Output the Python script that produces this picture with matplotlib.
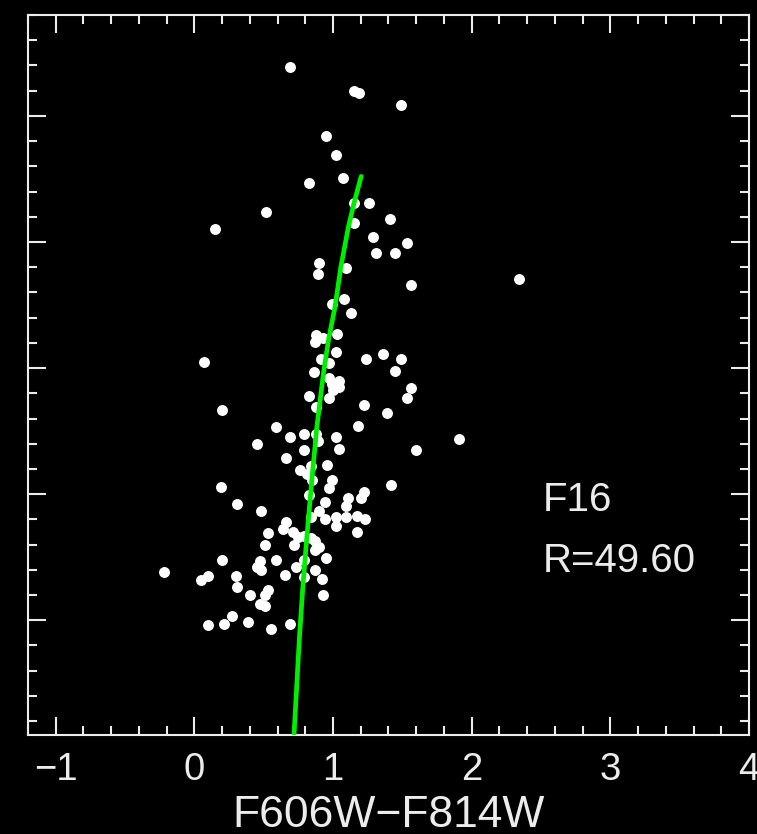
import matplotlib
matplotlib.use('Agg')
import matplotlib.pyplot as plt
from matplotlib.ticker import MultipleLocator, NullFormatter

plt.rcParams['font.family'] = ['Liberation Sans', 'DejaVu Sans']

# colour (F606W-F814W) and magnitude of the stars
color = [0.69, 1.15, 1.19, 1.49, 0.95, 1.02, 1.07, 0.83, 0.52, 0.15,
         1.15, 1.26, 1.41, 1.15, 1.29, 1.53, 1.31, 1.45, 0.90, 0.89,
         1.09, 1.56, 2.34, 1.08, 0.99, 1.13,
         0.88, 0.93, 0.87, 1.03, 1.02, 0.07, 1.24, 1.36, 1.49, 0.91,
         0.97, 0.86, 1.45, 0.97, 1.04, 0.99, 1.04, 1.00, 1.56, 1.53,
         0.83, 0.97, 1.22, 0.88, 1.39, 0.20, 1.18, 0.59, 0.69, 0.79,
         0.88, 1.02, 1.04, 0.79, 0.89, 0.45, 1.91, 1.60, 0.66, 0.96,
         0.76, 0.81, 0.84, 0.85, 0.99, 0.97, 0.19, 1.42, 1.22, 1.20,
         1.11, 1.09, 0.83, 0.94, 0.31, 0.48, 0.90, 0.84, 0.94, 1.02,
         1.09, 1.17, 1.23, 1.02, 1.17, 0.66, 0.64, 0.71, 0.75, 0.79,
         0.84, 0.87, 0.90, 0.87, 0.53, 0.51, 0.72, 0.95, 0.20, 0.59,
         0.47, 0.45, 0.48, 0.73, 0.79, 0.87, 0.92, 0.79, 0.65, -0.22,
         0.05, 0.10, 0.30, 0.31, 0.40, 0.53, 0.51, 0.47, 0.51, 0.93,
         0.27, 0.10, 0.21, 0.39, 0.55, 0.69]
mag = [19.61, 19.80, 19.82, 19.91, 20.16, 20.31, 20.49, 20.53, 20.76, 20.90,
       20.69, 20.69, 20.82, 20.85, 20.96, 21.01, 21.09, 21.09, 21.17, 21.25,
       21.21, 21.34, 21.29, 21.45, 21.49, 21.56,
       21.74, 21.76, 21.79, 21.73, 21.87, 21.95, 21.93, 21.89, 21.93, 21.93,
       21.96, 22.03, 22.02, 22.08, 22.10, 22.13, 22.15, 22.17, 22.16, 22.24,
       22.22, 22.24, 22.29, 22.31, 22.36, 22.33, 22.46, 22.47, 22.55, 22.52,
       22.52, 22.55, 22.64, 22.65, 22.58, 22.60, 22.56, 22.65, 22.71, 22.77,
       22.81, 22.84, 22.78, 22.89, 22.89, 22.95, 22.94, 22.93, 22.98, 23.03,
       23.03, 23.09, 23.01, 23.06, 23.08, 23.13, 23.13, 23.18, 23.20, 23.18,
       23.18, 23.17, 23.20, 23.25, 23.30, 23.22, 23.28, 23.30, 23.34, 23.33,
       23.35, 23.37, 23.42, 23.44, 23.31, 23.40, 23.40, 23.51, 23.52, 23.52,
       23.53, 23.58, 23.60, 23.58, 23.52, 23.60, 23.67, 23.66, 23.64, 23.62,
       23.68, 23.65, 23.65, 23.74, 23.80, 23.76, 23.80, 23.87, 23.89, 23.80,
       23.97, 24.04, 24.03, 24.01, 24.07, 24.03]

# fitted isochrone / ridge line
iso_color = [1.203, 1.152, 1.111, 1.056, 1.015, 0.967, 0.931, 0.883, 0.847,
             0.811, 0.782, 0.758, 0.719]
iso_mag = [20.48, 20.69, 20.88, 21.20, 21.51, 21.78, 22.04, 22.47, 22.89,
           23.34, 23.74, 24.13, 24.90]

field = 'F16'
r_label = 'R=49.60'

fg = '#ececec'

fig = plt.figure(figsize=(7.57, 8.34), dpi=100, facecolor='black')
ax = fig.add_axes([0.037, 0.1187, 0.9524, 0.8633], facecolor='black')

ax.scatter(color, mag, s=62, c='white', linewidths=0, zorder=2)
ax.plot(iso_color, iso_mag, color='#00ee00', lw=3.4, zorder=3,
        solid_capstyle='round')

ax.set_xlim(-1.2, 4.0)
ax.set_ylim(24.91, 19.2)

ax.xaxis.set_major_locator(MultipleLocator(1))
ax.xaxis.set_minor_locator(MultipleLocator(0.2))
ax.yaxis.set_major_locator(MultipleLocator(1))
ax.yaxis.set_minor_locator(MultipleLocator(0.2))
ax.yaxis.set_major_formatter(NullFormatter())

for s in ax.spines.values():
    s.set_color(fg)
    s.set_linewidth(1.5)

ax.tick_params(which='both', direction='in', top=True, right=True,
               color=fg, width=1.5, labelcolor=fg)
ax.tick_params(which='major', length=13)
ax.tick_params(which='minor', length=6.5)
ax.tick_params(axis='x', labelsize=27.5, pad=12)

ax.set_xlabel('F606W\u2212F814W', fontsize=32, color=fg, labelpad=5)

ax.text(2.514, 23.13, field, fontsize=29, color=fg, ha='left', va='baseline')
ax.text(2.514, 23.62, r_label, fontsize=29, color=fg, ha='left', va='baseline')

fig.savefig('out.png', dpi=100, facecolor='black')
